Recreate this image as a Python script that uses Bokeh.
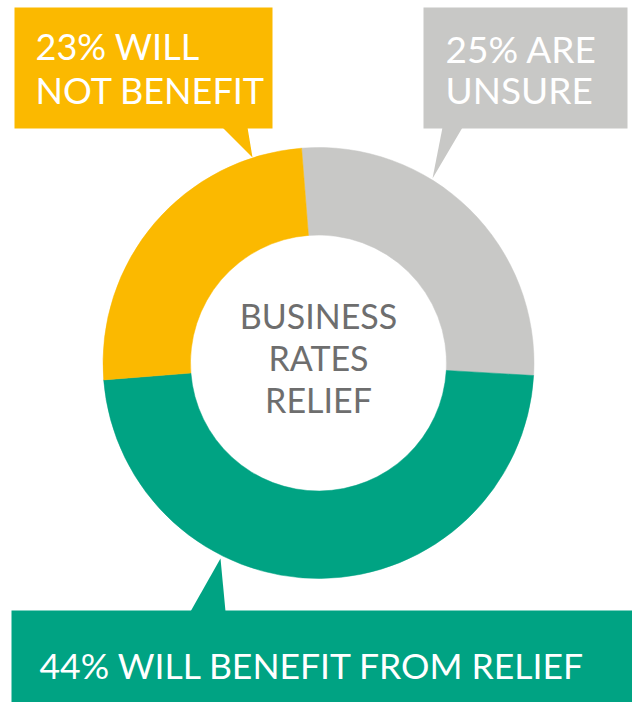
import math
from bokeh.plotting import figure
from bokeh.models import Range1d, ColumnDataSource
from bokeh.core.properties import value
from bokeh.embed import file_html
from bokeh.resources import INLINE

# ---- data ----
categories = ["Unsure", "Will benefit", "Will not benefit"]
percent = [25, 44, 23]
colors = ["#C8C8C6", "#00A383", "#FBB900"]
label_lines = [["25% ARE", "UNSURE"], ["44% WILL BENEFIT FROM RELIEF"], ["23% WILL", "NOT BENEFIT"]]
center_title = ["BUSINESS", "RATES", "RELIEF"]

W, H = 632, 702
FONT = "Lato"
DY = 12  # baseline correction

def Y(v):
    return H - v

p = figure(width=W, height=H, output_backend="svg", toolbar_location=None,
           x_range=Range1d(0, W), y_range=Range1d(0, H), min_border=0)
p.axis.visible = False
p.grid.visible = False
p.outline_line_color = None
p.background_fill_color = "white"
p.border_fill_color = "white"

# ---- donut ----
cx, cy = 318, Y(362.5)
total = sum(percent)
start = math.radians(94.5)
starts, ends = [], []
a = start
for v in percent:
    span = v / total * 2 * math.pi
    starts.append(a)
    ends.append(a - span)
    a -= span
src = ColumnDataSource(dict(cat=categories, val=percent, color=colors, s=starts, e=ends))
p.annular_wedge(x=cx, y=cy, inner_radius=128, outer_radius=215.5, start_angle="s", end_angle="e",
                direction="clock", fill_color="color", line_color="color", line_width=0.5, source=src)

# ---- callout boxes ----
# gray (unsure)
p.quad(left=423, right=627, top=Y(7), bottom=Y(128), fill_color=colors[0], line_color=None)
p.patch([442, 462, 432], [Y(127), Y(127), Y(178)], fill_color=colors[0], line_color=None)
# yellow (not benefit)
p.quad(left=14, right=272, top=Y(7), bottom=Y(128), fill_color=colors[2], line_color=None)
p.patch([222, 247, 252], [Y(127), Y(127), Y(157)], fill_color=colors[2], line_color=None)
# green (benefit)
p.quad(left=11, right=632, top=Y(610), bottom=Y(702), fill_color=colors[1], line_color=None)
p.patch([190, 225, 220], [Y(611), Y(611), Y(558)], fill_color=colors[1], line_color=None)

def txt(xs, ys, lines, color, size, align="left"):
    p.text(x=xs, y=[Y(v - DY) for v in ys], text=lines, text_color=color, text_font=value(FONT),
           text_font_size=size, text_align=align, text_baseline="alphabetic")

txt([445, 445], [60, 101], label_lines[0], "white", "37px")
txt([35, 35], [57, 101], label_lines[2], "white", "36px")
txt([39], [677], label_lines[1], "white", "35.5px")
txt([318, 318, 318], [327, 369, 411], center_title, "#6E6E6E", "34px", align="center")

open("out.html", "w").write(file_html(p, INLINE))
